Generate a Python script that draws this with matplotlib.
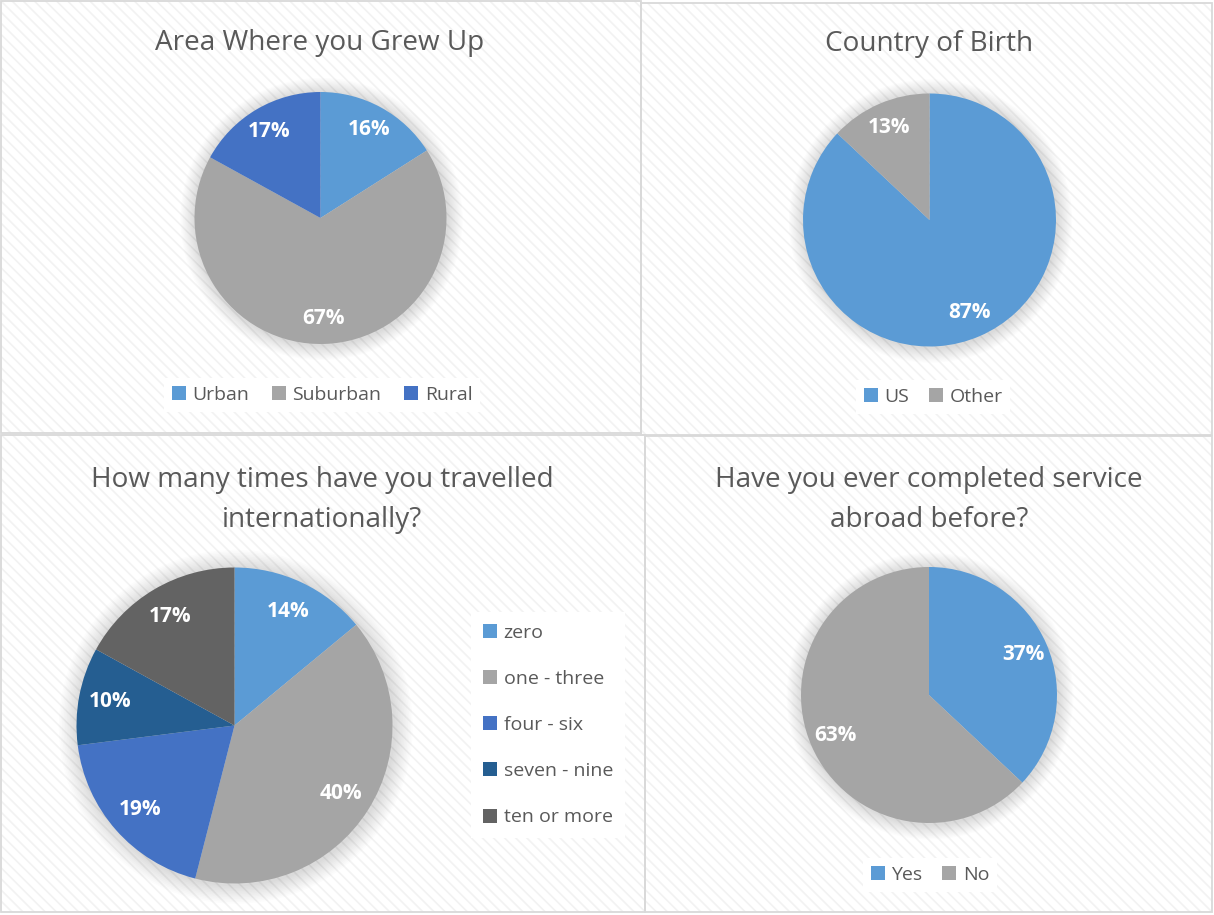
import matplotlib
matplotlib.use("Agg")
import matplotlib.pyplot as plt
from matplotlib.patches import Rectangle, Circle

plt.rcParams['font.family'] = ['Open Sans', 'DejaVu Sans']
plt.rcParams['hatch.linewidth'] = 1.2

# ---- data ----
area_labels = ["Urban", "Suburban", "Rural"]
area_values = [16, 67, 17]
country_labels = ["US", "Other"]
country_values = [87, 13]
travel_labels = ["zero", "one - three", "four - six", "seven - nine", "ten or more"]
travel_values = [14, 40, 19, 10, 17]
service_labels = ["Yes", "No"]
service_values = [37, 63]

titles = ["Area Where you Grew Up", "Country of Birth",
          "How many times have you travelled\ninternationally?",
          "Have you ever completed service\nabroad before?"]

c_blue = "#5B9BD5"
c_grey = "#A5A5A5"
c_blue2 = "#4472C4"
c_dblue = "#255E91"
c_dgrey = "#636363"
text_col = "#595959"

W, H = 1214, 915
fig = plt.figure(figsize=(W / 100, H / 100), dpi=100)
fig.patch.set_facecolor("white")


def fx(x):
    return x / W


def fy(y):
    return 1 - y / H


# panel backgrounds (x0, y0, x1, y1 in pixels from top-left)
panels = [(1, 1, 641, 433), (641, 3, 1212, 435), (1, 435, 645, 912), (645, 436, 1212, 912)]
for (x0, y0, x1, y1) in panels:
    fig.patches.append(Rectangle((fx(x0), fy(y1)), fx(x1 - x0), (y1 - y0) / H,
                                 transform=fig.transFigure, facecolor="white",
                                 edgecolor="#f2f2f2", hatch="\\\\\\", linewidth=0, zorder=-3))
    fig.patches.append(Rectangle((fx(x0), fy(y1)), fx(x1 - x0), (y1 - y0) / H,
                                 transform=fig.transFigure, facecolor="none",
                                 edgecolor="#d9d9d9", linewidth=1.3, zorder=-2))


def draw_pie(cx, cy, r, values, colors):
    ax = fig.add_axes([fx(cx - r), fy(cy + r), fx(2 * r), 2 * r / H])
    ax.set_axis_off()
    # soft shadow
    for k in range(12):
        ax.add_patch(Circle((0.008, -0.008), 1.0 + 0.01 * (k + 1), facecolor="black",
                            alpha=0.012, edgecolor="none", zorder=0, clip_on=False))
    wedges, texts, autotexts = ax.pie(values, colors=colors, startangle=90, counterclock=False,
                                      autopct="%.0f%%", pctdistance=0.8, radius=1.0,
                                      wedgeprops=dict(linewidth=0, zorder=2),
                                      textprops=dict(color="white", fontsize=15, fontweight="bold"))
    for t in autotexts:
        t.set_zorder(3)
    ax.set_xlim(-1, 1)
    ax.set_ylim(-1, 1)
    ax.set_aspect("equal")
    return ax, wedges


ax1, w1 = draw_pie(320.5, 218, 126, area_values, [c_blue, c_grey, c_blue2])
ax2, w2 = draw_pie(929.5, 220, 126.5, country_values, [c_blue, c_grey])
ax3, w3 = draw_pie(234.5, 725.5, 158, travel_values, [c_blue, c_grey, c_blue2, c_dblue, c_dgrey])
ax4, w4 = draw_pie(929, 695, 128, service_values, [c_blue, c_grey])

# titles
title_kw = dict(color=text_col, fontsize=20.1, ha="center", va="center", linespacing=1.57)
fig.text(fx(320), fy(43), titles[0], **title_kw)
fig.text(fx(929), fy(44), titles[1], **title_kw)
fig.text(fx(322), fy(500), titles[2], **title_kw)
fig.text(fx(929), fy(500), titles[3], **title_kw)

leg_kw = dict(frameon=True, fancybox=False, edgecolor="none", facecolor="white", framealpha=1,
              handlelength=0.72, handleheight=0.72, handletextpad=0.35, borderaxespad=0,
              prop=dict(size=14), labelcolor=text_col)

l1 = fig.legend(w1, area_labels, loc="center", bbox_to_anchor=(fx(322), fy(395)), ncol=3,
                columnspacing=1.15, **leg_kw)
l2 = fig.legend(w2, country_labels, loc="center", bbox_to_anchor=(fx(933), fy(397)), ncol=2,
                columnspacing=1.0, **leg_kw)
l4 = fig.legend(w4, service_labels, loc="center", bbox_to_anchor=(fx(930), fy(875)), ncol=2,
                columnspacing=1.0, **leg_kw)
l3 = fig.legend(w3, travel_labels, loc="center", bbox_to_anchor=(fx(548), fy(725)), ncol=1,
                labelspacing=1.45, borderpad=0.6, **leg_kw)

fig.savefig("out.png", dpi=100, facecolor="white")
